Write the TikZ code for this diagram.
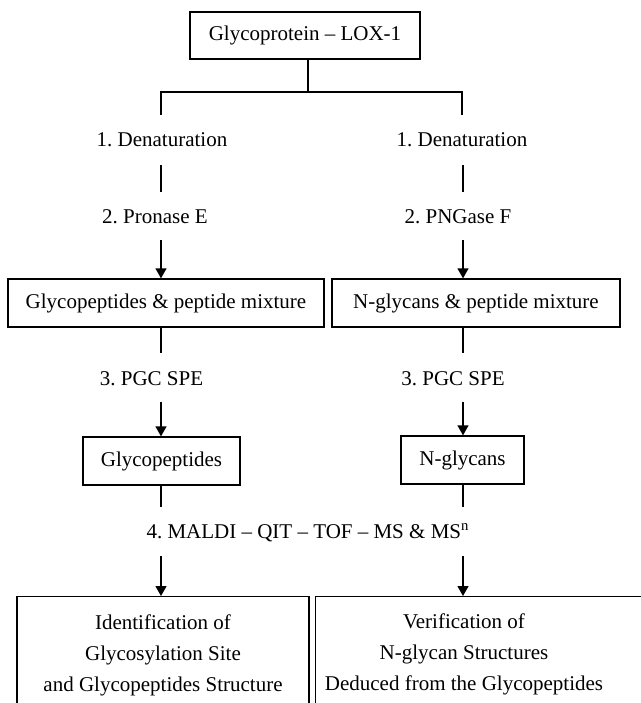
\documentclass[tikz,border=0pt]{standalone}
\usepackage{fontspec}
\setmainfont{Liberation Serif}
\usetikzlibrary{arrows.meta,calc}

\newlength{\du}
\setlength{\du}{0.5pt}

\tikzset{
  stepbox/.style={draw, line width=0.65pt, inner sep=0pt, align=center},
  steplabel/.style={inner sep=0pt, text height=8pt, text depth=2pt},
  conn/.style={line width=0.65pt},
  flow/.style={conn, -{Triangle[length=5pt,width=5.5pt]}},
}
\frenchspacing

\begin{document}
\begin{tikzpicture}[yscale=-1, font=\fontsize{10.5}{15.5}\selectfont]
\useasboundingbox (0,0) rectangle (641\du,703\du);
\clip (0,0) rectangle (641\du,703\du);
% columns
\coordinate (colL) at (161\du,0);
\coordinate (colR) at (463\du,0);
\coordinate (split) at (308\du,92\du);
\coordinate (footL) at (161\du,115\du);
\coordinate (footR) at (462\du,115\du);
% boxes
\node[stepbox, minimum width=230\du, minimum height=47\du] (lox) at (305\du,35.5\du) {Glycoprotein -- LOX-1};
\node[stepbox, minimum width=316\du, minimum height=48\du] (mixL) at (166\du,303\du) {Glycopeptides \& peptide mixture};
\node[stepbox, minimum width=288\du, minimum height=48\du] (mixR) at (476\du,303\du) {N-glycans \& peptide mixture};
\node[stepbox, minimum width=157\du, minimum height=48\du] (glyp) at (161.5\du,461\du) {Glycopeptides};
\node[stepbox, minimum width=123\du, minimum height=48\du] (nglyc) at (462.5\du,460\du) {N-glycans};
\node[stepbox, anchor=north, minimum width=292\du, minimum height=117\du] (ident) at (163\du,596\du)
  {Identification of\\Glycosylation Site\\and Glycopeptides Structure};
\node[stepbox, anchor=north west, minimum width=340\du, minimum height=117\du] (verif) at (315\du,596\du) {};
\node[align=center, inner sep=0pt] (veriftxt) at (464\du,654.5\du)
  {Verification of\\N-glycan Structures\\Deduced from the Glycopeptides};
% step labels
\node[steplabel] (denL) at (162\du,140\du) {1. Denaturation};
\node[steplabel] (denR) at (462\du,140\du) {1. Denaturation};
\node[steplabel] (pro) at (155\du,217\du) {2. Pronase E};
\node[steplabel] (png) at (458\du,217\du) {2. PNGase F};
\node[steplabel] (pgcL) at (151.5\du,379\du) {3. PGC SPE};
\node[steplabel] (pgcR) at (453\du,379\du) {3. PGC SPE};
\node[steplabel] (maldi) at (308\du,532\du) {4. MALDI -- QIT -- TOF -- MS \& MS$^{\mathrm{n}}$};
% split from the glycoprotein
\draw[conn] (split |- lox.south) -- (split);
\draw[conn] (footL) -- (split -| footL) -- (split -| footR) -- (footR);
% left branch
\draw[conn, shorten <=7.5pt, shorten >=7.5pt] (colL |- denL.south) -- (colL |- pro.north);
\draw[flow, shorten <=6.5pt] (colL |- pro.south) -- (colL |- mixL.north);
\draw[conn, shorten >=8pt] (colL |- mixL.south) -- (colL |- pgcL.north);
\draw[flow, shorten <=6.5pt] (colL |- pgcL.south) -- (colL |- glyp.north);
\draw[conn, shorten >=7.5pt] (colL |- glyp.south) -- (colL |- maldi.north);
\draw[flow, shorten <=7pt] (colL |- maldi.south) -- (colL |- ident.north);
% right branch
\draw[conn, shorten <=7.5pt, shorten >=7.5pt] (colR |- denR.south) -- (colR |- png.north);
\draw[flow, shorten <=6.5pt] (colR |- png.south) -- (colR |- mixR.north);
\draw[conn, shorten >=8pt] (colR |- mixR.south) -- (colR |- pgcR.north);
\draw[flow, shorten <=6.5pt] (colR |- pgcR.south) -- (colR |- nglyc.north);
\draw[conn, shorten >=7.5pt] (colR |- nglyc.south) -- (colR |- maldi.north);
\draw[flow, shorten <=7pt] (colR |- maldi.south) -- (colR |- verif.north);
\end{tikzpicture}
\end{document}
